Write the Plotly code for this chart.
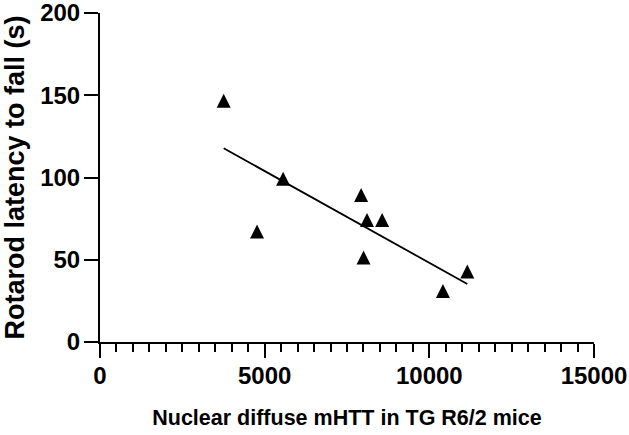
import numpy as np
import plotly.graph_objects as go

# Data
nuclear_mhtt = [3756, 4768, 5560, 7929, 8108, 8567, 8002, 10413, 11154]
latency_s = [146.6, 67.1, 99.2, 89.4, 74.2, 74.2, 51.3, 31.0, 42.8]

x_ticks = [0, 5000, 10000, 15000]
y_ticks = [0, 50, 100, 150, 200]

# Linear regression line over the data range
slope, intercept = np.polyfit(nuclear_mhtt, latency_s, 1)
fit_x = [min(nuclear_mhtt), max(nuclear_mhtt)]
fit_y = [slope * v + intercept for v in fit_x]

FONT = "Liberation Sans, Arial, sans-serif"
MSIZE = 14

fig = go.Figure()
fig.add_trace(go.Scatter(
    x=fit_x, y=fit_y, mode="lines",
    line=dict(color="black", width=1.8),
    showlegend=False, hoverinfo="skip",
))
fig.add_trace(go.Scatter(
    x=nuclear_mhtt, y=latency_s, mode="markers",
    marker=dict(symbol="arrow-down", angle=180, standoff=MSIZE / 2,
                size=MSIZE, color="black", line=dict(width=0)),
    showlegend=False,
))

fig.update_layout(
    width=629, height=435,
    margin=dict(l=100, r=35, t=13, b=93),
    paper_bgcolor="white", plot_bgcolor="white",
    font=dict(family=FONT, color="black"),
    xaxis=dict(
        range=[0, 15000], tickvals=x_ticks, ticktext=[str(v) for v in x_ticks],
        showline=True, linecolor="black", linewidth=2,
        ticks="outside", ticklen=14, tickwidth=2, tickcolor="black",
        minor=dict(dtick=500, ticks="outside", ticklen=8, tickwidth=2, tickcolor="black"),
        showgrid=False, zeroline=False, automargin=False,
        ticklabeloverflow="allow", ticklabelstandoff=-3,
        tickfont=dict(family=FONT, size=24, color="black", weight="bold"),
        title=dict(text="Nuclear diffuse mHTT in TG R6/2 mice",
                   font=dict(family=FONT, size=21.5, color="black", weight="bold"),
                   standoff=22),
    ),
    yaxis=dict(
        range=[0, 200], tickvals=y_ticks, ticktext=[str(v) for v in y_ticks],
        showline=True, linecolor="black", linewidth=2,
        ticks="outside", ticklen=14, tickwidth=2, tickcolor="black",
        showgrid=False, zeroline=False, automargin=False,
        ticklabeloverflow="allow", ticklabelstandoff=-1,
        tickfont=dict(family=FONT, size=24, color="black", weight="bold"),
        title=dict(text="Rotarod latency to fall (s)",
                   font=dict(family=FONT, size=27, color="black", weight="bold"),
                   standoff=8),
    ),
)

# Remove the browser's default page margin so the figure sits at the window's corner
fig.write_html("out.html", config={"displayModeBar": False},
               post_script="document.body.style.margin='0';")
